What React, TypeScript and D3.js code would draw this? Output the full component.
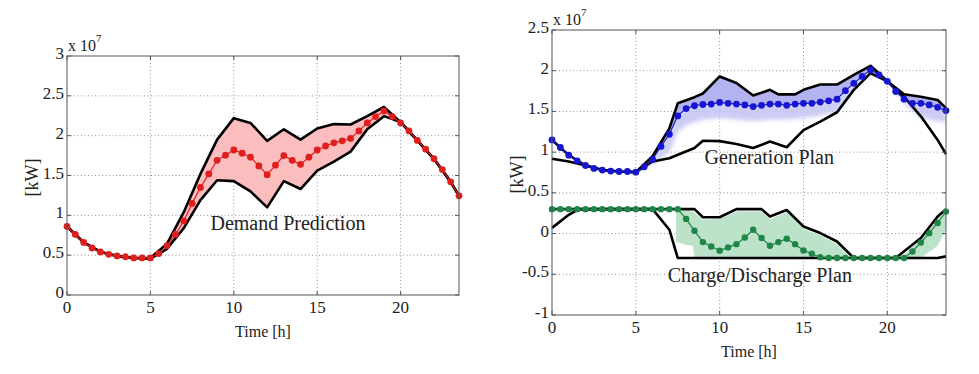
import React, { useEffect, useRef } from "react";
import * as d3 from "d3";

// time grid of the plans (every half hour)
const halfHours = d3.range(0, 24, 0.5);
const timeTicks = [0, 5, 10, 15, 20];
const demandTicks = [0, 0.5, 1, 1.5, 2, 2.5, 3];
const planTicks = [-1, -0.5, 0, 0.5, 1, 1.5, 2, 2.5];

// left panel, x 10^7 kW
const demandPrediction = [
  0.86, 0.76, 0.66, 0.59, 0.54, 0.51, 0.49, 0.48, 0.465, 0.465,
  0.465, 0.52, 0.62, 0.76, 0.93, 1.15, 1.35, 1.52, 1.69, 1.755,
  1.82, 1.78, 1.73, 1.62, 1.51, 1.63, 1.75, 1.69, 1.64, 1.73,
  1.82, 1.87, 1.91, 1.935, 1.965, 2.06, 2.16, 2.24, 2.31, 2.24,
  2.16, 2.06, 1.94, 1.83, 1.71, 1.575, 1.42, 1.245,
];
const boundHours = [0, 1, 2, 3, 4, 5, 6, 7, 8, 9, 10, 11, 12, 13, 14, 15, 16, 17, 18, 19, 20, 21, 22, 23, 23.5];
const demandUpper = [
  0.86, 0.66, 0.54, 0.49, 0.465, 0.465, 0.645, 1.04, 1.52, 1.95, 2.22, 2.16, 1.935,
  2.08, 1.95, 2.09, 2.145, 2.14, 2.245, 2.36, 2.17, 1.94, 1.71, 1.42, 1.245,
];
const demandLower = [
  0.86, 0.66, 0.54, 0.49, 0.465, 0.455, 0.58, 0.84, 1.19, 1.44, 1.43, 1.3, 1.1,
  1.43, 1.33, 1.56, 1.675, 1.8, 2.08, 2.245, 2.17, 1.94, 1.71, 1.42, 1.245,
];

// right panel: generation plan
const generationPlan = [
  1.15, 1.057, 0.963, 0.893, 0.836, 0.8, 0.78, 0.767, 0.762, 0.762,
  0.754, 0.82, 0.91, 1.07, 1.22, 1.445, 1.535, 1.57, 1.585, 1.59,
  1.61, 1.6, 1.59, 1.58, 1.56, 1.575, 1.59, 1.59, 1.575, 1.59,
  1.6, 1.6, 1.615, 1.63, 1.65, 1.755, 1.845, 1.93, 2.01, 1.95,
  1.87, 1.745, 1.65, 1.6, 1.6, 1.58, 1.55, 1.51,
];
const genUpperHours = [0, 1, 2, 3, 4, 5, 6, 7, 7.5, 8.5, 9, 10, 11, 12, 13, 13.5, 14.5, 15, 16, 17, 18, 19, 20, 21, 22, 23, 23.5];
const genUpper = [
  1.15, 0.963, 0.836, 0.78, 0.762, 0.754, 0.95, 1.29, 1.6, 1.675, 1.72, 1.93, 1.85, 1.695,
  1.765, 1.71, 1.71, 1.765, 1.83, 1.83, 1.95, 2.06, 1.87, 1.71, 1.68, 1.64, 1.54,
];
const genLowerHours = [0, 1, 2, 3, 4, 5, 6, 7, 8.5, 9, 10, 11, 12, 13, 14, 15, 16, 17, 18, 19, 20, 21, 22, 23, 23.5];
const genLower = [
  0.92, 0.885, 0.836, 0.78, 0.762, 0.754, 0.885, 0.925, 1.05, 1.14, 1.135, 1.1, 1.05,
  1.13, 1.06, 1.27, 1.375, 1.49, 1.765, 1.97, 1.87, 1.68, 1.44, 1.15, 0.975,
];
const genFadeHours = [5.5, 6, 7, 7.5, 8, 9, 10, 11, 12, 13, 14, 15, 16, 17, 17.5, 18, 19, 20, 21, 22, 23, 23.5];
const genFadeLow = [
  0.8, 0.85, 1.0, 1.25, 1.33, 1.4, 1.42, 1.4, 1.38, 1.4, 1.4, 1.42, 1.45, 1.5, 1.62,
  1.78, 1.97, 1.86, 1.6, 1.42, 1.38, 1.36,
];

// right panel: charge / discharge plan
const chargePlan = [
  0.3, 0.3, 0.3, 0.3, 0.3, 0.3, 0.3, 0.3, 0.3, 0.3,
  0.3, 0.3, 0.3, 0.3, 0.3, 0.3, 0.18, 0.034, -0.105, -0.158,
  -0.21, -0.17, -0.13, -0.048, 0.047, -0.055, -0.15, -0.105, -0.064, -0.13,
  -0.207, -0.248, -0.29, -0.3, -0.3, -0.3, -0.3, -0.3, -0.3, -0.3,
  -0.3, -0.3, -0.3, -0.22, -0.11, 0.005, 0.13, 0.27,
];
const chargeUpperHours = [0, 8.5, 9, 10, 11, 12.5, 13, 14, 15, 16, 17, 18, 20.5, 22, 23, 23.5];
const chargeUpper = [0.3, 0.3, 0.2, 0.2, 0.3, 0.3, 0.21, 0.29, 0.087, 0.006, -0.097, -0.3, -0.3, -0.055, 0.21, 0.3];
const chargeLowerHours = [0, 1, 1.6, 6, 7, 7.5, 23, 23.5];
const chargeLower = [0.07, 0.23, 0.3, 0.3, 0.047, -0.3, -0.3, -0.28];
const chargeShadeHours = [7.4, 8, 8.4, 8.5, 9, 10, 11, 12.5, 13, 14, 15, 16, 17, 17.8];
const chargeShadeHi = [0.27, 0.28, 0.27, 0.26, 0.17, 0.18, 0.27, 0.27, 0.18, 0.26, 0.06, -0.02, -0.13, -0.3];
const chargeShadeLo = [-0.1, -0.14, -0.15, -0.3, -0.3, -0.3, -0.3, -0.3, -0.3, -0.3, -0.3, -0.3, -0.3, -0.3];
const chargeShade2Hours = [20.8, 22, 23, 23.5];
const chargeShade2Hi = [-0.3, -0.07, 0.19, 0.28];
const chargeShade2Lo = [-0.3, -0.3, -0.15, 0.05];

const FONT = "'Liberation Serif', 'Times New Roman', serif";

const zip = (xs: number[], ys: number[]): [number, number][] => xs.map((h, i) => [h, ys[i]]);

function drawAxes(g: any, x: any, y: any, yTicks: number[], id: string) {
  const [x0, x1] = x.range();
  const [y0, y1] = y.range();

  g.append("clipPath").attr("id", id).append("rect")
    .attr("x", x0).attr("y", y1).attr("width", x1 - x0).attr("height", y0 - y1);

  timeTicks.slice(1).forEach((t) => {
    g.append("line").attr("x1", x(t)).attr("x2", x(t)).attr("y1", y0).attr("y2", y1)
      .attr("stroke", "#8a8a8a").attr("stroke-width", 0.9).attr("stroke-dasharray", "1,2.5");
  });
  yTicks.slice(1, -1).forEach((v) => {
    g.append("line").attr("x1", x0).attr("x2", x1).attr("y1", y(v)).attr("y2", y(v))
      .attr("stroke", "#8a8a8a").attr("stroke-width", 0.9).attr("stroke-dasharray", "1,2.5");
  });
}

function drawFrame(g: any, x: any, y: any, yTicks: number[]) {
  const [x0, x1] = x.range();
  const [y0, y1] = y.range();
  g.append("rect").attr("x", x0).attr("y", y1).attr("width", x1 - x0).attr("height", y0 - y1)
    .attr("fill", "none").attr("stroke", "#555").attr("stroke-width", 1);

  timeTicks.forEach((t) => {
    g.append("line").attr("x1", x(t)).attr("x2", x(t)).attr("y1", y0).attr("y2", y0 - 4).attr("stroke", "#555");
    g.append("line").attr("x1", x(t)).attr("x2", x(t)).attr("y1", y1).attr("y2", y1 + 4).attr("stroke", "#555");
    g.append("text").attr("x", x(t)).attr("y", y0 + 18).attr("text-anchor", "middle")
      .attr("font-family", FONT).attr("font-size", 17).attr("fill", "#222").text(t);
  });
  yTicks.forEach((v) => {
    g.append("line").attr("x1", x0).attr("x2", x0 + 4).attr("y1", y(v)).attr("y2", y(v)).attr("stroke", "#555");
    g.append("line").attr("x1", x1).attr("x2", x1 - 4).attr("y1", y(v)).attr("y2", y(v)).attr("stroke", "#555");
    g.append("text").attr("x", x0 - 3).attr("y", y(v) + 3).attr("text-anchor", "end")
      .attr("font-family", FONT).attr("font-size", 17).attr("fill", "#222").text(String(v));
  });

  g.append("text").attr("x", x0 + 1).attr("y", y1 - 5)
    .attr("font-family", FONT).attr("font-size", 16).attr("fill", "#222").text("x 10");
  g.append("text").attr("x", x0 + 29).attr("y", y1 - 14)
    .attr("font-family", FONT).attr("font-size", 11).attr("fill", "#222").text("7");

  g.append("text").attr("x", (x0 + x1) / 2).attr("y", y0 + 42).attr("text-anchor", "middle")
    .attr("font-family", FONT).attr("font-size", 16).attr("fill", "#222").text("Time [h]");
  g.append("text")
    .attr("transform", `translate(${x0 - 29},${(y0 + y1) / 2 + 2}) rotate(-90)`)
    .attr("text-anchor", "middle")
    .attr("font-family", FONT).attr("font-size", 18).attr("fill", "#222").text("[kW]");
}

function band(g: any, line: any, top: [number, number][], bottom: [number, number][], fill: string, clip: string) {
  return g.append("path")
    .attr("d", line([...top, ...bottom.slice().reverse()]) + "Z")
    .attr("fill", fill).attr("stroke", "none").attr("clip-path", `url(#${clip})`);
}

function dotted(g: any, line: any, pts: [number, number][], x: any, y: any, color: string, r: number) {
  g.append("path").attr("d", line(pts)).attr("fill", "none").attr("stroke", color).attr("stroke-width", 1.2);
  g.selectAll(null).data(pts).enter().append("circle")
    .attr("cx", (d: [number, number]) => x(d[0]))
    .attr("cy", (d: [number, number]) => y(d[1]))
    .attr("r", r).attr("fill", color);
}

function bound(g: any, line: any, pts: [number, number][]) {
  g.append("path").attr("d", line(pts)).attr("fill", "none").attr("stroke", "#000")
    .attr("stroke-width", 2.6).attr("stroke-linejoin", "round");
}

export default function App() {
  const ref = useRef<SVGSVGElement>(null);

  useEffect(() => {
    const svg = d3.select(ref.current);
    svg.selectAll("*").remove();

    const defs = svg.append("defs");
    defs.append("filter").attr("id", "soft").attr("x", "-10%").attr("y", "-30%")
      .attr("width", "120%").attr("height", "160%")
      .append("feGaussianBlur").attr("stdDeviation", 2.2);

    // ---- left: demand prediction ----
    const xL = d3.scaleLinear().domain([0, 23.5]).range([67, 459]);
    const yL = d3.scaleLinear().domain([0, 3]).range([295, 56]);
    const lineL = d3.line<[number, number]>().x((d) => xL(d[0])).y((d) => yL(d[1]));
    const gL = svg.append("g");
    drawAxes(gL, xL, yL, demandTicks, "clipL");
    band(gL, lineL, zip(boundHours, demandUpper), zip(boundHours, demandLower), "#fbbdbd", "clipL");
    bound(gL, lineL, zip(boundHours, demandUpper));
    bound(gL, lineL, zip(boundHours, demandLower));
    dotted(gL, lineL, zip(halfHours, demandPrediction), xL, yL, "#e01e1e", 3.4);
    drawFrame(gL, xL, yL, demandTicks);
    gL.append("text").attr("x", xL(8.6)).attr("y", yL(0.82)).attr("font-family", FONT)
      .attr("font-size", 20).attr("fill", "#222").text("Demand Prediction");

    // ---- right: generation and charge/discharge plans ----
    const xR = d3.scaleLinear().domain([0, 23.5]).range([552, 946]);
    const yR = d3.scaleLinear().domain([-1, 2.5]).range([315, 30]);
    const lineR = d3.line<[number, number]>().x((d) => xR(d[0])).y((d) => yR(d[1]));
    const gR = svg.append("g");
    drawAxes(gR, xR, yR, planTicks, "clipR");

    const genPts = zip(halfHours, generationPlan);
    band(gR, lineR, genPts.filter((d) => d[0] >= 5.5), zip(genFadeHours, genFadeLow), "#c6c6f5", "clipR")
      .attr("filter", "url(#soft)").attr("opacity", 0.9);
    band(gR, lineR, zip(genUpperHours, genUpper).filter((d) => d[0] >= 5), genPts.filter((d) => d[0] >= 5), "#b3b3f1", "clipR");

    band(gR, lineR, zip(chargeShadeHours, chargeShadeHi), zip(chargeShadeHours, chargeShadeLo), "#bce2c9", "clipR");
    band(gR, lineR, zip(chargeShade2Hours, chargeShade2Hi), zip(chargeShade2Hours, chargeShade2Lo), "#bce2c9", "clipR");

    bound(gR, lineR, zip(genUpperHours, genUpper));
    bound(gR, lineR, zip(genLowerHours, genLower));
    bound(gR, lineR, zip(chargeUpperHours, chargeUpper));
    bound(gR, lineR, zip(chargeLowerHours, chargeLower));
    dotted(gR, lineR, genPts, xR, yR, "#1616d2", 3.4);
    dotted(gR, lineR, zip(halfHours, chargePlan), xR, yR, "#1e8646", 3.2);
    drawFrame(gR, xR, yR, planTicks);

    gR.append("text").attr("x", xR(9.1)).attr("y", yR(0.85)).attr("font-family", FONT)
      .attr("font-size", 20).attr("fill", "#222").text("Generation Plan");
    gR.append("text").attr("x", xR(6.9)).attr("y", yR(-0.6)).attr("font-family", FONT)
      .attr("font-size", 20).attr("fill", "#222").text("Charge/Discharge Plan");
  }, []);

  return (
    <svg ref={ref} width={979} height={374}
      style={{ position: "absolute", left: 0, top: 0, background: "#fff" }} />
  );
}
